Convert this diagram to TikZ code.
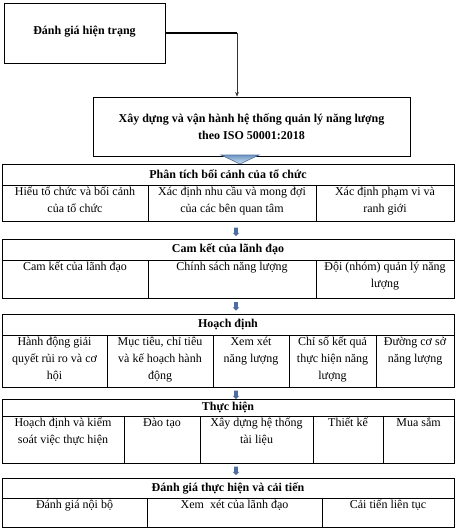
\documentclass[tikz,border=0pt]{standalone}
\usepackage{fontspec}
\setmainfont{Liberation Serif}
\usetikzlibrary{arrows.meta,positioning,calc,shapes.arrows}
\definecolor{arrblue}{RGB}{79,110,160}
\definecolor{chevtop}{RGB}{110,150,195}
\definecolor{chevbot}{RGB}{210,228,243}
\newcommand{\cellfont}{\fontsize{12}{17}\selectfont}
\tikzset{
  curbox/.style={draw=black, line width=0.9pt, font=\cellfont\bfseries,
                 align=center, inner sep=0pt},
  gridline/.style={draw=black, line width=0.8pt},
  headtxt/.style={font=\cellfont\bfseries, inner sep=0pt},
  celltxt/.style={font=\cellfont, align=center, anchor=north, inner sep=0pt},
  blockarr/.style={single arrow, draw=none, fill=arrblue, rotate=-90,
                   minimum height=8.5pt, inner sep=1.6pt,
                   single arrow head extend=1.6pt},
  linkthick/.style={line width=1.6pt},
  linkthin/.style={line width=0.6pt, draw=black!80,
                   -{Stealth[length=1.6mm,width=1.3mm]}},
}
\begin{document}
\begin{tikzpicture}[x=1pt,y=-1pt]
\useasboundingbox (0,0) rectangle (457,532);
% top boxes
\node[curbox, minimum width=161pt, minimum height=60pt] (cur) at (84.5,33)
  {\raisebox{5pt}{Đánh giá hiện trạng}};
\node[curbox, minimum width=317pt, minimum height=59pt] (build) at (251.5,126.5)
  {\raisebox{-3pt}{Xây dựng và vận hành hệ thống quản lý năng lượng}\\[3pt]theo ISO 50001:2018};
\coordinate (elbow) at (237,33);
\draw[linkthick] (cur.east) -- (elbow);
\draw[linkthin] (elbow) -- (elbow |- build.north);
\draw[draw=arrblue, line width=0.6pt, top color=chevtop, bottom color=chevbot]
  (221,155) -- (259,155) -- (240,164) -- cycle;

% table 1
\draw[gridline] (2,164) rectangle (454,221);
\draw[gridline] (2,185) -- (454,185);
\foreach \x in {148,316} \draw[gridline] (\x,185) -- (\x,221);
\node[headtxt] (h1) at (228,174.5) {Phân tích bối cảnh của tổ chức};
\node[celltxt] (c11) at (75,187) {Hiểu tổ chức và bối cảnh\\của tổ chức};
\node[celltxt] (c12) at (232,187) {Xác định nhu cầu và mong đợi\\của các bên quan tâm};
\node[celltxt] (c13) at (385,187) {Xác định phạm vi và\\ranh giới};
\node[blockarr] (a1) at (236,231) {};

% table 2
\draw[gridline] (2,239) rectangle (454,298);
\draw[gridline] (2,260) -- (454,260);
\foreach \x in {148,316} \draw[gridline] (\x,260) -- (\x,298);
\node[headtxt] (h2) at (228,249.5) {Cam kết của lãnh đạo};
\node[celltxt] (c21) at (75,262) {Cam kết của lãnh đạo};
\node[celltxt] (c22) at (232,262) {Chính sách năng lượng};
\node[celltxt] (c23) at (385,262) {Đội (nhóm) quản lý năng\\lượng};
\node[blockarr] (a2) at (236,305.5) {};

% table 3
\draw[gridline] (2,314) rectangle (454,387);
\draw[gridline] (2,335) -- (454,335);
\foreach \x in {107,213,289,376} \draw[gridline] (\x,335) -- (\x,387);
\node[headtxt] (h3) at (228,324.5) {Hoạch định};
\node[celltxt] (c31) at (54.5,337) {Hành động giải\\quyết rủi ro và cơ\\hội};
\node[celltxt] (c32) at (160,337) {Mục tiêu, chỉ tiêu\\và kế hoạch hành\\động};
\node[celltxt] (c33) at (251,337) {Xem xét\\năng lượng};
\node[celltxt] (c34) at (332.5,337) {Chỉ số kết quả\\thực hiện năng\\lượng};
\node[celltxt] (c35) at (415,337) {Đường cơ sở\\năng lượng};
\node[blockarr] (a3) at (236,394) {};

% table 4
\draw[gridline] (2,399) rectangle (454,463);
\draw[gridline] (2,416) -- (454,416);
\foreach \x in {124,200,313,383} \draw[gridline] (\x,416) -- (\x,463);
\node[headtxt] (h4) at (228,407.5) {Thực hiện};
\node[celltxt] (c41) at (63,418) {Hoạch định và kiểm\\soát việc thực hiện};
\node[celltxt] (c42) at (162,418) {Đào tạo};
\node[celltxt] (c43) at (256.5,418) {Xây dựng hệ thống\\tài liệu};
\node[celltxt] (c44) at (348,418) {Thiết kế};
\node[celltxt] (c45) at (418.5,418) {Mua sắm};
\node[blockarr] (a4) at (236,470) {};

% table 5
\draw[gridline] (2,478) rectangle (454,527);
\draw[gridline] (2,498) -- (454,498);
\foreach \x in {147,322} \draw[gridline] (\x,498) -- (\x,527);
\node[headtxt] (h5) at (228,488) {Đánh giá thực hiện và cải tiến};
\node[celltxt] (c51) at (74.5,500) {Đánh giá nội bộ};
\node[celltxt] (c52) at (234.5,500) {Xem\ \ xét của lãnh đạo};
\node[celltxt] (c53) at (388,500) {Cải tiến liên tục};
\end{tikzpicture}
\end{document}
